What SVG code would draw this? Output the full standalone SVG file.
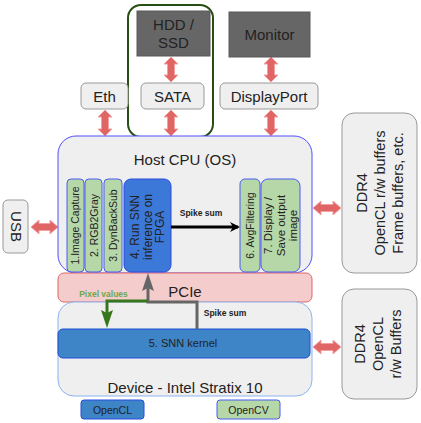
<svg xmlns="http://www.w3.org/2000/svg" width="421" height="423" viewBox="0 0 421 423">
<defs>
<style>
text{font-family:"Liberation Sans",Arial,sans-serif;fill:#222}
.gbox{fill:#efefef;stroke:#999;stroke-width:1}
.dark{fill:#666;stroke:#595959;stroke-width:1}
.dbl{fill:#e06666;stroke:#f4a0a0;stroke-width:1}
.step{fill:#b6d7a8;stroke:#4a5cf0;stroke-width:1}
.lbl{font-size:15px}
.v{font-size:10.5px}
.small{font-size:8.5px;font-weight:bold}
</style>
<marker id="ahBlack" markerWidth="10" markerHeight="10" refX="8" refY="5" orient="auto" markerUnits="userSpaceOnUse" viewBox="0 0 10 10"><path d="M0,0 L10,5 L0,10 L3,5 Z" fill="#000"/></marker>
</defs>
<rect width="421" height="423" fill="#fff"/>

<g id="connectors">
<polygon class="dbl" points="171,57 178,64 174.5,64 174.5,75 178,75 171,82 164,75 167.5,75 167.5,64 164,64"/>
<polygon class="dbl" points="271,57 278,64 274.5,64 274.5,75 278,75 271,82 264,75 267.5,75 267.5,64 264,64"/>
<polygon class="dbl" points="105,110 112,117 108.5,117 108.5,129 112,129 105,136 98,129 101.5,129 101.5,117 98,117"/>
<polygon class="dbl" points="171,110 178,117 174.5,117 174.5,129 178,129 171,136 164,129 167.5,129 167.5,117 164,117"/>
<polygon class="dbl" points="271,110 278,117 274.5,117 274.5,129 278,129 271,136 264,129 267.5,129 267.5,117 264,117"/>
<polygon class="dbl" points="31,227 39,220 39,223.5 50,223.5 50,220 58,227 50,234 50,230.5 39,230.5 39,234"/>
<polygon class="dbl" points="313,208 321,201 321,204.5 333,204.5 333,201 341,208 333,215 333,211.5 321,211.5 321,215"/>
<polygon class="dbl" points="313,347 321,340 321,343.5 333,343.5 333,340 341,347 333,354 333,350.5 321,350.5 321,354"/>
</g>

<g id="sata-group"><rect x="128" y="5" width="85" height="132" rx="13" fill="none" stroke="#274e13" stroke-width="2"/></g>

<g id="hdd"><rect class="dark" x="137" y="11" width="73" height="45"/>
<text class="lbl" x="173.5" y="30" text-anchor="middle">HDD /</text>
<text class="lbl" x="173.5" y="48" text-anchor="middle">SSD</text></g>
<g id="monitor"><rect class="dark" x="229" y="12" width="81" height="45"/>
<text class="lbl" x="269.5" y="40" text-anchor="middle">Monitor</text></g>

<g id="eth"><rect class="gbox" x="81" y="83" width="47" height="26" rx="5"/><text class="lbl" x="104.5" y="101.5" text-anchor="middle">Eth</text></g>
<g id="sata"><rect class="gbox" x="141" y="83" width="63" height="26" rx="5"/><text class="lbl" x="172.5" y="101.5" text-anchor="middle">SATA</text></g>
<g id="displayport"><rect class="gbox" x="220" y="83" width="98" height="26" rx="5"/><text class="lbl" x="269" y="101.5" text-anchor="middle">DisplayPort</text></g>

<g id="usb"><rect class="gbox" x="3" y="200" width="25" height="53" rx="5"/>
<text class="lbl" transform="translate(10.5,226.5) rotate(90)" text-anchor="middle">USB</text></g>

<g id="host-cpu"><rect x="58" y="136" width="254" height="137" rx="18" fill="#efefef" stroke="#4f4fff" stroke-width="1"/>
<text class="lbl" x="185" y="165" text-anchor="middle">Host CPU (OS)</text></g>

<g id="ddr4-host"><rect class="gbox" x="342" y="113" width="75" height="160" rx="12"/>
<text font-size="14.5" transform="translate(367,193) rotate(-90)" text-anchor="middle"><tspan x="0" y="0">DDR4</tspan><tspan x="0" y="18">OpenCL r/w buffers</tspan><tspan x="0" y="36">Frame buffers, etc.</tspan></text></g>

<g id="ddr4-device"><rect class="gbox" x="342" y="289" width="75" height="110" rx="12"/>
<text font-size="14.5" transform="translate(365,344) rotate(-90)" text-anchor="middle"><tspan x="0" y="0">DDR4</tspan><tspan x="0" y="18">OpenCL</tspan><tspan x="0" y="36">r/w Buffers</tspan></text></g>

<g id="pcie"><rect x="58" y="273" width="254" height="29" rx="6" fill="#f4cccc" stroke="#e06666" stroke-width="1"/>
<text class="lbl" x="185" y="297" text-anchor="middle">PCIe</text></g>

<g id="device"><rect x="58" y="302" width="254" height="94" rx="16" fill="#efefef" stroke="#8db3f0" stroke-width="1"/>
<text class="lbl" x="185" y="393" text-anchor="middle">Device - Intel Stratix 10</text></g>

<g id="step1"><rect class="step" x="67" y="179" width="17" height="93" rx="4"/>
<text class="v" transform="translate(79,225.5) rotate(-90)" text-anchor="middle">1.Image Capture</text></g>
<g id="step2"><rect class="step" x="85" y="179" width="17" height="93" rx="4"/>
<text class="v" transform="translate(97.5,225.5) rotate(-90)" text-anchor="middle">2. RGB2Gray</text></g>
<g id="step3"><rect class="step" x="104" y="179" width="18" height="93" rx="4"/>
<text class="v" transform="translate(116.5,225.5) rotate(-90)" text-anchor="middle">3. DynBackSub</text></g>
<g id="step4"><rect x="124" y="179" width="47" height="93" rx="7" fill="#3c78d8" stroke="#2a4be0" stroke-width="1"/>
<text font-size="12" transform="translate(139,227) rotate(-90)" text-anchor="middle"><tspan x="0" y="0">4. Run SNN</tspan><tspan x="0" y="12.5">inference on</tspan><tspan x="0" y="25">FPGA</tspan></text></g>
<g id="step6"><rect class="step" x="240" y="179" width="20" height="93" rx="5"/>
<text class="v" transform="translate(254,225.5) rotate(-90)" text-anchor="middle">6. AvgFiltering</text></g>
<g id="step7"><rect class="step" x="261" y="179" width="39" height="93" rx="7"/>
<text font-size="11.5" transform="translate(272,225.5) rotate(-90)" text-anchor="middle"><tspan x="0" y="0">7. Display /</tspan><tspan x="0" y="12.5">Save output</tspan><tspan x="0" y="25">image</tspan></text></g>

<g id="snn-kernel"><rect x="58" y="329" width="252" height="29" rx="5" fill="#3d85c6" stroke="#1c4ed8" stroke-width="1"/>
<text font-size="11" x="183" y="347" text-anchor="middle">5. SNN kernel</text></g>

<g id="flow">
<line x1="171" y1="227" x2="238" y2="227" stroke="#000" stroke-width="3" marker-end="url(#ahBlack)"/>
<text class="small" x="201" y="216" text-anchor="middle">Spike sum</text>
<polyline points="197,329 197,302 148,302 148,285" fill="none" stroke="#666" stroke-width="3"/>
<polygon points="148,273 154,291 148,288 142,291" fill="#666"/>
<polyline points="148,301 107,301 107,318" fill="none" stroke="#38761d" stroke-width="3"/>
<polygon points="107,328 101,310 107,313 113,310" fill="#38761d"/>
<text class="small" x="103.5" y="297" text-anchor="middle" style="fill:#6aa84f">Pixel values</text>
<text class="small" x="225" y="316" text-anchor="middle">Spike sum</text>
</g>

<g id="legend-opencl"><rect x="81" y="400" width="63" height="19" rx="3" fill="#3d85c6" stroke="#2a4be0" stroke-width="1"/>
<text font-size="10.5" x="112.5" y="413.5" text-anchor="middle">OpenCL</text></g>
<g id="legend-opencv"><rect x="217" y="400" width="63" height="19" rx="3" fill="#b6d7a8" stroke="#4a5cf0" stroke-width="1"/>
<text font-size="10.5" x="248.5" y="413.5" text-anchor="middle">OpenCV</text></g>
</svg>
